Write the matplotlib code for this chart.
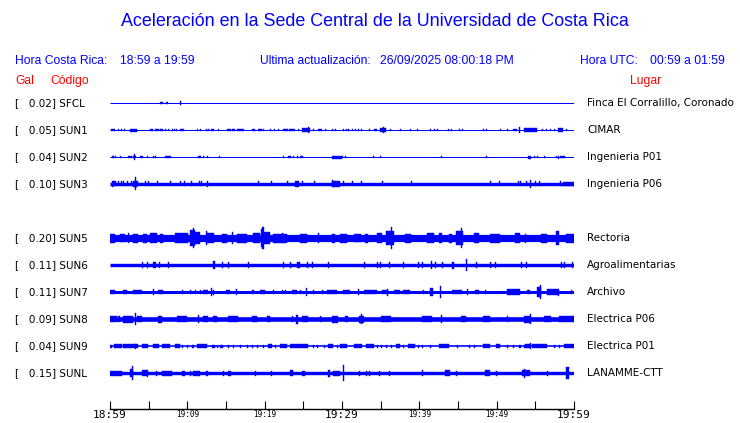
import matplotlib
matplotlib.use("Agg")
import matplotlib.pyplot as plt
from matplotlib.transforms import blended_transform_factory

BLUE = "#0000ff"
RED = "#ff0000"
HEAD_FONT = "Liberation Sans"

# station table
codes = ["SFCL", "SUN1", "SUN2", "SUN3", "SUN5", "SUN6", "SUN7", "SUN8", "SUN9", "SUNL"]
places = ["Finca El Corralillo, Coronado", "CIMAR", "Ingenieria P01", "Ingenieria P06",
          "Rectoria", "Agroalimentarias", "Archivo", "Electrica P06", "Electrica P01",
          "LANAMME-CTT"]
gal = [0.02, 0.05, 0.04, 0.10, 0.20, 0.11, 0.11, 0.09, 0.04, 0.15]
slots = [0, 1, 2, 3, 5, 6, 7, 8, 9, 10]  # row 4 (SUN4) has no data
noise = [0.5, 0.5, 0.5, 1.7, 3.6, 1.7, 1.5, 2.3, 0.8, 1.7]  # noise floor half-width

tick_minutes = list(range(0, 61, 5))
tick_labels = ["18:59", "", "19:09", "", "19:19", "", "19:29", "", "19:39", "", "19:49", "", "19:59"]

# bursts: (minute after 18:59, duration in min, half amplitude)
ev_sfcl = [(6.5, 0.4, 1.3), (7.2, 0.25, 1.3), (9.05, 0.12, 2.0)]

ev_sun1 = [
    (0.1, 0.6, 1.4), (1.0, 0.2, 1.3), (1.4, 0.12, 1.3), (1.8, 0.12, 1.3), (2.6, 0.9, 1.5),
    (5.2, 0.4, 1.4), (5.8, 0.5, 1.4), (6.5, 0.4, 1.4), (7.1, 0.12, 1.3), (7.5, 0.12, 1.3),
    (8.0, 0.12, 1.3), (8.3, 0.12, 1.3), (8.5, 0.12, 1.3), (9.1, 0.5, 1.4), (11.2, 0.12, 1.3),
    (11.6, 0.12, 1.3), (12.4, 0.12, 1.3), (12.7, 0.12, 1.3), (13.1, 0.4, 1.4), (14.0, 0.12, 1.3),
    (15.1, 0.12, 1.3), (15.3, 0.4, 1.4), (15.8, 0.3, 1.4), (16.4, 0.9, 1.4), (18.4, 0.3, 1.4),
    (19.1, 0.5, 1.4), (19.8, 0.12, 1.3), (20.7, 0.12, 1.3), (21.2, 0.12, 1.3), (21.7, 0.12, 1.3),
    (22.4, 0.6, 1.4), (23.1, 0.8, 1.4), (24.3, 0.12, 1.3), (24.8, 1.0, 1.8), (25.6, 0.15, 3.3),
    (26.2, 0.12, 1.3), (26.9, 0.5, 1.4), (27.8, 0.12, 1.3), (28.7, 0.2, 1.3), (29.1, 0.12, 1.3),
    (30.1, 0.12, 1.3), (30.5, 0.12, 1.3), (30.8, 0.12, 1.3), (31.3, 0.12, 1.3), (31.7, 0.12, 1.3),
    (32.1, 0.12, 1.3), (32.5, 0.12, 1.3), (33.5, 0.12, 1.3), (34.1, 0.4, 1.4), (34.9, 0.8, 2.0),
    (35.3, 0.15, 3.0), (36.2, 0.12, 1.3), (37.5, 0.12, 1.3), (38.8, 0.12, 1.3), (39.7, 0.12, 1.3),
    (41.4, 0.12, 1.3), (41.9, 0.12, 1.3), (42.3, 0.12, 1.3), (43.7, 0.12, 1.3), (44.1, 0.12, 1.3),
    (45.1, 0.12, 1.3), (45.5, 0.12, 1.3), (48.2, 0.12, 1.3), (48.6, 0.12, 1.3), (50.4, 0.12, 1.3),
    (51.3, 0.12, 1.3), (52.1, 0.5, 1.4), (52.9, 0.15, 3.3), (53.5, 1.7, 1.8), (55.9, 0.12, 1.3),
    (56.4, 0.12, 1.3), (56.9, 0.12, 1.3), (57.4, 0.12, 1.3), (57.9, 0.7, 2.2), (59.0, 0.12, 1.3),
]

ev_sun2 = [
    (0.3, 0.12, 1.0), (0.4, 0.12, 1.0), (0.6, 0.12, 1.0), (1.3, 0.12, 1.0), (2.3, 0.5, 1.3),
    (3.0, 0.4, 1.3), (3.1, 0.15, 2.8), (3.9, 0.4, 1.2), (4.8, 0.12, 1.0), (5.6, 0.12, 1.0),
    (5.8, 0.12, 1.0), (7.1, 0.8, 1.3), (11.4, 0.4, 1.3), (12.0, 0.12, 1.0), (12.5, 0.12, 1.0),
    (14.1, 0.12, 1.0), (22.4, 0.12, 1.0), (23.0, 0.4, 1.2), (23.7, 0.12, 1.0), (24.2, 0.12, 1.0),
    (24.6, 0.3, 1.2), (28.7, 1.3, 1.5), (30.0, 0.12, 1.0), (30.4, 0.12, 1.0), (34.0, 0.12, 1.0),
    (34.9, 0.12, 1.0), (42.8, 0.12, 1.0), (48.6, 0.12, 1.2), (54.0, 0.5, 1.5), (54.8, 0.12, 1.2),
    (55.2, 0.12, 1.2), (56.1, 0.12, 1.2), (57.7, 0.12, 1.0), (57.9, 0.12, 1.5), (58.2, 0.7, 1.3),
]

ev_sun3 = [
    (0.3, 0.12, 2.8), (0.4, 0.4, 2.5), (1.0, 0.12, 2.5), (1.4, 0.12, 2.5), (1.7, 0.12, 2.5),
    (2.2, 0.12, 2.5), (2.7, 0.12, 2.5), (3.0, 0.5, 2.6), (3.2, 0.15, 6.5), (3.5, 0.12, 2.5),
    (4.5, 0.12, 2.5), (4.9, 0.12, 2.5), (6.1, 0.12, 2.5), (7.8, 0.12, 2.5), (9.1, 0.12, 2.5),
    (9.6, 0.12, 2.5), (10.5, 0.12, 2.5), (11.5, 0.12, 2.5), (11.8, 0.12, 2.5), (12.5, 0.15, 2.8),
    (19.1, 0.12, 2.5), (20.8, 0.12, 2.5), (22.9, 0.12, 2.5), (23.9, 0.5, 2.8), (24.8, 0.12, 2.5),
    (26.4, 0.12, 2.5), (28.7, 1.0, 2.6), (28.7, 0.15, 3.5), (30.1, 0.12, 2.5), (31.3, 0.12, 2.5),
    (32.5, 0.12, 2.5), (35.2, 0.12, 2.5), (38.9, 0.12, 2.5), (49.1, 0.12, 2.5), (50.3, 0.12, 2.5),
    (52.8, 0.12, 2.5), (53.0, 0.12, 2.5), (53.8, 0.12, 2.5), (54.3, 0.15, 3.8), (55.0, 0.12, 2.5),
    (55.5, 0.12, 2.5), (58.2, 0.12, 2.5), (58.6, 1.4, 2.1),
]

ev_sun5 = [
    (0.0, 0.65, 4.5), (1.3, 0.65, 4.4), (2.3, 0.12, 4.6), (3.0, 0.65, 4.5), (4.3, 0.5, 4.5),
    (5.2, 0.9, 4.8), (6.5, 0.3, 4.5), (8.4, 1.7, 4.8), (10.3, 0.65, 8.0), (10.7, 0.15, 10.0),
    (11.0, 0.65, 6.0), (12.4, 0.15, 7.0), (12.5, 1.0, 5.0), (14.5, 0.65, 4.5), (15.8, 0.15, 6.0),
    (16.4, 1.3, 4.5), (18.5, 0.9, 4.8), (19.5, 0.3, 9.0), (19.7, 0.15, 11.0), (19.8, 0.9, 6.0),
    (21.1, 1.8, 4.5), (22.2, 0.15, 5.2), (24.6, 0.9, 4.5), (26.9, 0.15, 4.8), (28.7, 0.4, 4.5),
    (29.7, 0.9, 4.5), (31.6, 0.8, 4.4), (33.0, 0.3, 4.5), (34.5, 0.65, 4.8), (35.7, 1.0, 7.0),
    (36.3, 0.15, 11.0), (38.1, 0.8, 4.5), (41.0, 0.9, 4.8), (42.5, 0.4, 5.2), (43.8, 0.4, 4.5),
    (44.7, 1.0, 7.0), (45.4, 0.15, 10.0), (47.1, 0.65, 5.2), (49.1, 1.3, 4.5), (52.4, 0.65, 4.8),
    (53.7, 0.15, 4.5), (55.7, 0.8, 4.5), (57.7, 0.4, 7.0), (59.0, 1.0, 4.5),
]

ev_sun6 = [
    (4.1, 0.15, 3.2), (4.8, 0.12, 2.6), (5.6, 0.4, 2.8), (6.3, 0.15, 3.2), (7.5, 0.12, 2.8),
    (13.3, 0.25, 4.3), (14.5, 0.12, 2.6), (15.3, 0.12, 2.6), (17.8, 0.12, 2.6), (22.4, 0.12, 2.6),
    (23.3, 0.12, 2.6), (24.2, 0.4, 3.2), (25.5, 0.12, 2.6), (26.1, 0.12, 2.6), (28.2, 0.12, 2.6),
    (32.8, 0.12, 2.6), (34.5, 0.12, 2.6), (34.9, 0.12, 2.6), (36.1, 0.12, 2.6), (37.9, 0.12, 2.6),
    (39.8, 0.12, 2.6), (40.3, 0.12, 2.6), (41.5, 0.15, 4.3), (42.0, 0.12, 2.6), (42.9, 0.12, 2.6),
    (44.2, 0.25, 3.5), (46.0, 0.15, 6.0), (47.3, 0.12, 2.6), (49.1, 0.12, 2.6), (49.8, 0.12, 2.6),
    (53.1, 0.12, 2.6), (53.8, 0.12, 2.6), (58.3, 0.12, 2.6), (58.7, 0.12, 2.6), (59.7, 0.12, 2.6),
]

ev_sun7 = [
    (0.0, 0.65, 2.3), (1.7, 0.5, 2.4), (3.0, 1.2, 2.4), (5.6, 0.15, 3.0), (6.2, 0.65, 2.4),
    (9.3, 0.12, 2.3), (10.3, 0.12, 2.3), (11.0, 0.12, 2.3), (11.6, 0.12, 2.3), (12.0, 0.65, 2.4),
    (13.1, 0.15, 4.0), (13.3, 0.12, 2.5), (15.0, 0.5, 2.3), (16.3, 0.15, 3.0), (18.4, 0.2, 2.3),
    (19.4, 0.65, 2.4), (21.1, 0.12, 2.3), (22.2, 0.12, 2.3), (22.6, 0.12, 2.3), (23.5, 0.65, 2.4),
    (24.6, 0.12, 2.3), (25.3, 0.15, 4.0), (26.2, 0.12, 2.3), (27.4, 0.12, 2.3), (28.1, 1.3, 2.4),
    (30.1, 0.9, 2.4), (32.1, 0.15, 3.0), (32.8, 1.7, 2.4), (35.2, 0.8, 2.4), (35.8, 0.15, 3.5),
    (36.7, 0.8, 2.4), (37.9, 0.9, 2.4), (40.5, 0.12, 2.3), (41.4, 0.4, 3.8), (42.7, 0.15, 6.3),
    (44.2, 1.3, 2.4), (46.2, 0.15, 3.0), (47.2, 0.5, 2.4), (48.5, 0.12, 2.3), (51.3, 1.7, 2.8),
    (53.9, 0.4, 2.4), (55.2, 0.5, 5.0), (55.6, 0.15, 7.0), (56.5, 1.4, 2.8), (57.9, 0.15, 3.5),
    (59.6, 0.12, 2.3),
]

ev_sun8 = [
    (0.0, 0.9, 3.0), (1.0, 0.3, 3.3), (1.7, 1.3, 3.5), (3.2, 0.15, 5.8), (3.5, 0.65, 3.3),
    (6.2, 0.5, 3.5), (8.7, 1.3, 3.0), (11.4, 0.15, 3.8), (12.0, 0.65, 3.3), (13.3, 0.5, 3.0),
    (15.3, 1.3, 3.3), (18.4, 0.65, 3.0), (20.3, 0.4, 3.3), (23.5, 0.2, 3.0), (24.1, 0.15, 4.5),
    (24.8, 0.8, 3.3), (27.2, 0.12, 3.0), (28.7, 0.8, 3.5), (30.4, 0.4, 3.3), (32.2, 0.65, 3.5),
    (32.5, 0.15, 5.0), (35.0, 1.3, 3.0), (40.3, 1.3, 3.3), (42.8, 0.15, 3.8), (45.4, 0.65, 3.0),
    (48.2, 0.9, 3.0), (51.3, 0.15, 3.3), (53.5, 0.8, 3.5), (54.3, 0.15, 5.0), (56.1, 0.9, 3.0),
    (58.1, 2.0, 3.3),
]

ev_sun9 = [
    (0.0, 0.3, 1.5), (0.5, 1.0, 1.8), (1.7, 1.9, 1.7), (3.2, 0.15, 2.5), (4.1, 0.8, 1.8),
    (5.6, 0.8, 1.7), (6.7, 1.0, 1.8), (8.4, 0.65, 1.7), (9.3, 0.12, 1.5), (10.0, 0.12, 1.5),
    (10.6, 0.2, 1.5), (11.2, 1.4, 1.8), (13.2, 0.4, 1.5), (13.8, 0.12, 1.5), (14.2, 0.4, 1.5),
    (15.3, 0.12, 1.5), (15.9, 0.12, 1.5), (16.8, 0.12, 1.5), (17.7, 0.12, 1.5), (18.4, 0.12, 1.5),
    (19.0, 0.12, 1.5), (19.8, 0.12, 1.5), (20.4, 0.5, 1.8), (21.3, 0.12, 1.5), (22.0, 0.9, 1.6),
    (23.3, 2.3, 1.8), (26.2, 0.12, 1.5), (26.8, 0.12, 1.5), (27.7, 0.12, 1.5), (28.2, 0.65, 1.6),
    (29.4, 0.12, 1.5), (29.7, 1.0, 1.8), (31.6, 1.0, 1.8), (33.1, 1.0, 1.8), (34.5, 0.12, 1.5),
    (35.0, 0.12, 1.5), (35.7, 0.12, 1.5), (36.3, 0.12, 1.5), (37.0, 0.5, 1.6), (37.9, 0.12, 1.5),
    (38.5, 0.9, 1.8), (39.8, 0.12, 1.5), (40.3, 0.12, 1.5), (41.4, 0.12, 1.5), (42.5, 1.3, 1.7),
    (44.9, 0.12, 1.5), (46.4, 0.12, 1.5), (47.1, 0.12, 1.5), (48.2, 0.9, 1.8), (49.9, 0.5, 1.8),
    (51.3, 0.12, 1.5), (52.1, 0.12, 1.5), (52.9, 0.2, 1.5), (53.5, 0.12, 1.5), (53.7, 0.65, 2.0),
    (54.3, 0.15, 2.8), (54.6, 1.9, 1.8), (57.4, 0.12, 1.5), (58.1, 0.12, 1.5), (58.7, 1.3, 1.8),
]

ev_sunl = [
    (0.0, 1.5, 2.5), (2.6, 0.4, 4.0), (2.85, 0.15, 7.0), (4.1, 0.65, 3.0), (4.8, 0.15, 3.5),
    (5.9, 0.12, 2.5), (6.7, 1.3, 2.5), (9.3, 0.4, 2.5), (10.3, 0.12, 2.5), (10.7, 0.9, 2.5),
    (12.4, 0.3, 2.5), (14.6, 0.12, 2.5), (15.3, 0.3, 2.5), (18.7, 0.12, 2.5), (20.8, 0.12, 2.5),
    (23.3, 0.4, 3.0), (24.8, 0.4, 2.5), (28.2, 0.3, 3.5), (28.8, 0.9, 2.5), (30.1, 0.15, 8.0),
    (32.2, 0.12, 2.5), (33.1, 0.12, 2.5), (33.5, 0.12, 2.5), (34.8, 0.12, 2.5), (36.1, 0.12, 2.5),
    (40.3, 0.15, 2.8), (43.3, 0.65, 2.6), (44.7, 0.12, 2.5), (48.5, 0.65, 3.0), (49.9, 0.12, 2.5),
    (53.3, 1.0, 3.0), (53.5, 0.15, 4.5), (56.5, 0.12, 2.5), (59.0, 0.3, 6.0),
]

events = [ev_sfcl, ev_sun1, ev_sun2, ev_sun3, ev_sun5, ev_sun6, ev_sun7, ev_sun8, ev_sun9, ev_sunl]

W, H = 740, 423
ROW0, ROW_STEP = 103, 27  # pixel row of first trace, spacing


def fx(px):
    return px / W


def fy(py):
    return 1 - py / H


fig = plt.figure(figsize=(W / 100, H / 100), dpi=100)
ax = fig.add_axes([fx(110), fy(409), fx(574) - fx(110), fy(90) - fy(409)])
ax.set_xlim(0, 60)
ax.set_ylim(409, 90)  # y in pixel rows so amplitudes read as pixels

for code, place, g, slot, nz, ev in zip(codes, places, gal, slots, noise, events):
    y = ROW0 + ROW_STEP * slot
    ax.hlines(y, 0, 60, color=BLUE, lw=max(2 * nz, 1.0) * 0.72)
    t = [e[0] for e in ev]
    w = [max(e[1], 0.13) for e in ev]
    a = [e[2] for e in ev]
    ax.bar(t, [2 * v for v in a], width=w, bottom=[y - v for v in a], align="edge",
           color=BLUE, edgecolor=BLUE, linewidth=0.3)

trans = blended_transform_factory(fig.transFigure, ax.transData)
for code, place, g, slot in zip(codes, places, gal, slots):
    y = ROW0 + ROW_STEP * slot
    ax.text(fx(15), y, f"[   {g:.2f}] {code}", transform=trans, fontsize=7.5,
            color="black", va="center", ha="left")
    ax.text(fx(587), y, place, transform=trans, fontsize=7.5, color="black",
            va="center", ha="left")

for s in ["left", "right", "top"]:
    ax.spines[s].set_visible(False)
ax.spines["bottom"].set_linewidth(1.0)
ax.set_yticks([])
ax.set_xticks(tick_minutes)
ax.set_xticklabels(tick_labels)
ax.tick_params(axis="x", direction="in", length=6, width=0.8, pad=1)
for lab, m in zip(ax.get_xticklabels(), tick_minutes):
    lab.set_family("DejaVu Sans Mono")
    lab.set_fontsize(8 if m % 30 == 0 else 5.5)

# header
fig.text(fx(375), fy(22), "Aceleración en la Sede Central de la Universidad de Costa Rica",
         ha="center", va="center", color=BLUE, fontsize=12.9, family=HEAD_FONT)
hdr = dict(va="center", ha="left", color=BLUE, fontsize=8.7, family=HEAD_FONT)
fig.text(fx(15), fy(61), "Hora Costa Rica:", **hdr)
fig.text(fx(120), fy(61), "18:59 a 19:59", **hdr)
fig.text(fx(260), fy(61), "Ultima actualización:", **hdr)
fig.text(fx(380), fy(61), "26/09/2025 08:00:18 PM", **hdr)
fig.text(fx(580), fy(61), "Hora UTC:", **hdr)
fig.text(fx(650), fy(61), "00:59 a 01:59", **hdr)
red = dict(va="center", ha="left", color=RED, fontsize=8.7, family=HEAD_FONT)
fig.text(fx(15), fy(81), "Gal", **red)
fig.text(fx(50), fy(81), "Código", **red)
fig.text(fx(630), fy(81), "Lugar", **red)

fig.savefig("out.png", dpi=100)
